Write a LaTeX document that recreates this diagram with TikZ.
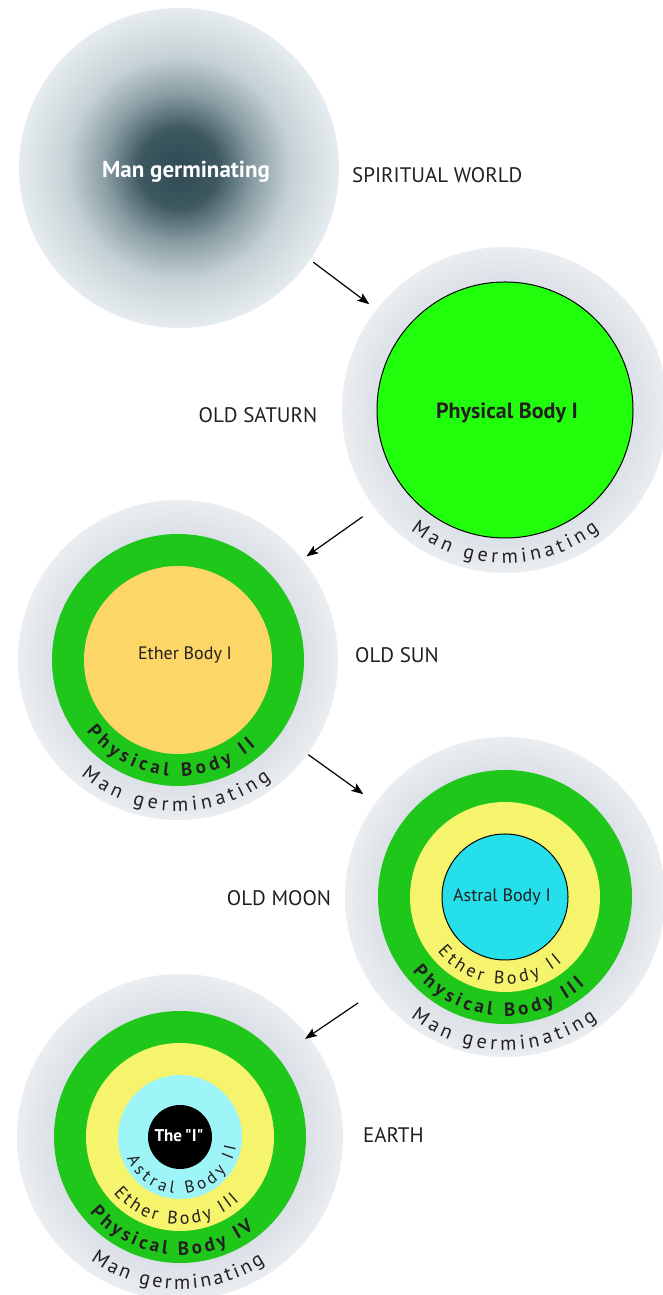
\documentclass[tikz,border=0pt]{standalone}
\usepackage{fontspec}
\setmainfont{PT Sans}
\newfontfamily\qfont[Ligatures=TeXOff]{PT Sans}
\usetikzlibrary{decorations.text,arrows.meta}
\definecolor{ringA}{HTML}{DADFE6}
\definecolor{ringB}{HTML}{EAEEF1}
\definecolor{spA}{HTML}{2F4A53}
\definecolor{spA2}{HTML}{3E5860}
\definecolor{spB}{HTML}{8A9EA4}
\definecolor{spC}{HTML}{C6D2D6}
\definecolor{spD}{HTML}{E6ECEF}
\definecolor{limeG}{HTML}{22FF0C}
\definecolor{bodyG}{HTML}{1EC71A}
\definecolor{etherO}{HTML}{FCD666}
\definecolor{etherY}{HTML}{F6F46C}
\definecolor{astralC}{HTML}{25E0EA}
\definecolor{astralL}{HTML}{9DF5F8}
\definecolor{inkD}{HTML}{231F20}
\pgfdeclareradialshading{ringsh}{\pgfpoint{0bp}{0bp}}{color(0bp)=(ringA); color(19bp)=(ringA); color(25bp)=(ringB); color(50bp)=(ringB)}
\pgfdeclareradialshading{spsh}{\pgfpoint{0bp}{0bp}}{color(0bp)=(spA); color(6.2bp)=(spA2); color(11.7bp)=(spB); color(17.5bp)=(spC); color(25bp)=(spD); color(50bp)=(spD)}
\newcommand{\cfreg}{\fontsize{20}{20}\selectfont}
\newcommand{\cfbold}{\fontsize{19}{19}\selectfont\bfseries}
\newcommand{\cfeth}{\fontsize{18}{18}\selectfont}
\newcommand{\cfsmall}{\fontsize{17}{17}\selectfont}
\tikzset{
  disc/.style={circle, inner sep=0pt, outer sep=0pt, draw=none},
  ring/.style={disc, minimum size=320pt, shading=ringsh},
  world/.style={font=\fontsize{21}{21}\selectfont, text=inkD, inner sep=0pt},
  inlabel/.style={font=\fontsize{18}{18}\selectfont, text=inkD, inner sep=0pt},
  ctext/.style={decorate, decoration={text along path, text align={fit to path}, text color=inkD}},
  arr/.style={-{Stealth[length=12pt,width=9pt,inset=2.5pt]}, line width=1.2pt, black}
}
\begin{document}
\begin{tikzpicture}[x=1pt,y=1pt]
\useasboundingbox (0,0) rectangle (662,1295);
\fill[white] (0,0) rectangle (662,1295);

% Spiritual world
\node[disc, minimum size=320pt, shading=spsh] (spirit) at (179,1127) {};
\node[font=\fontsize{23}{23}\selectfont\bfseries, text=white!92!spD, inner sep=0pt] (spiritlbl) at (186,1123) {Man germinating};
\node[world, anchor=west] (lspirit) at (352,1120) {SPIRITUAL WORLD};

% Old Saturn
\node[ring, minimum size=326pt] (saturn) at (505,885) {};
\node[disc, minimum size=256pt, fill=limeG, draw=black, line width=1pt] (saturnpb) at (505,885) {};
\node[font=\fontsize{22}{22}\selectfont\bfseries, text=inkD, inner sep=0pt] (saturnlbl) at (507,882) {Physical Body I};
\path[ctext, decoration={text={|\cfreg|Man germinating}}] (saturn.center) ++(232:153) arc (232:308:153);
\node[world] (lsaturn) at (258,880) {OLD SATURN};

% Old Sun
\node[ring] (sun) at (178,635) {};
\node[disc, minimum size=252pt, fill=bodyG] (sunpb) at (178,635) {};
\node[disc, minimum size=188pt, fill=etherO] (suneb) at (178,635) {};
\node[inlabel] (sunlbl) at (185,640) {Ether Body I};
\path[ctext, decoration={text={|\cfbold|Physical Body II}}] (sun.center) ++(218:116) arc (218:312:116);
\path[ctext, decoration={text={|\cfreg|Man germinating}}] (sun.center) ++(230:151) arc (230:308:151);
\node[world, anchor=west] (lsun) at (355,640) {OLD SUN};

% Old Moon
\node[ring] (moon) at (505,398) {};
\node[disc, minimum size=254pt, fill=bodyG] (moonpb) at (505,398) {};
\node[disc, minimum size=190pt, fill=etherY] (mooneb) at (505,398) {};
\node[disc, minimum size=126pt, fill=astralC, draw=black, line width=1pt] (moonab) at (505,398) {};
\node[inlabel] (moonlbl) at (502,398) {Astral Body I};
\path[ctext, decoration={text={|\cfeth|Ether Body II}}] (moon.center) ++(219:87) arc (219:311:87);
\path[ctext, decoration={text={|\cfbold|Physical Body III}}] (moon.center) ++(219:119) arc (219:312:119);
\path[ctext, decoration={text={|\cfreg|Man germinating}}] (moon.center) ++(232:153) arc (232:307:153);
\node[world] (lmoon) at (279,397) {OLD MOON};

% Earth
\node[ring, minimum size=326pt] (earth) at (180,158) {};
\node[disc, minimum size=252pt, fill=bodyG] (earthpb) at (180,158) {};
\node[disc, minimum size=188pt, fill=etherY] (eartheb) at (180,158) {};
\node[disc, minimum size=124pt, fill=astralL] (earthab) at (180,158) {};
\node[disc, minimum size=64pt, fill=black] (earthi) at (180,158) {};
\node[font=\qfont\fontsize{17}{17}\selectfont\bfseries, text=white, inner sep=0pt] (earthlbl) at (179,159) {The\,"I"};
\path[ctext, decoration={text={|\cfsmall|Astral Body II}}] (earth.center) ++(202:57) arc (202:350:57);
\path[ctext, decoration={text={|\cfeth|Ether Body III}}] (earth.center) ++(220:87) arc (220:313:87);
\path[ctext, decoration={text={|\cfbold|Physical Body IV}}] (earth.center) ++(220:118) arc (220:309:118);
\path[ctext, decoration={text={|\cfreg|Man germinating}}] (earth.center) ++(234:152) arc (234:304:152);
\node[world, anchor=west] (learth) at (363,160) {EARTH};

% Arrows
\draw[arr, shorten <=4pt, shorten >=9pt] (spirit.-35) -- (saturn.142);
\draw[arr, shorten <=15pt, shorten >=5pt] (saturn.217) -- (sun.39);
\draw[arr, shorten <=1pt, shorten >=15pt] (sun.-36) -- (moon.144.5);
\draw[arr, shorten <=21pt, shorten >=-4pt] (moon.216) -- (earth.38);
\end{tikzpicture}
\end{document}
